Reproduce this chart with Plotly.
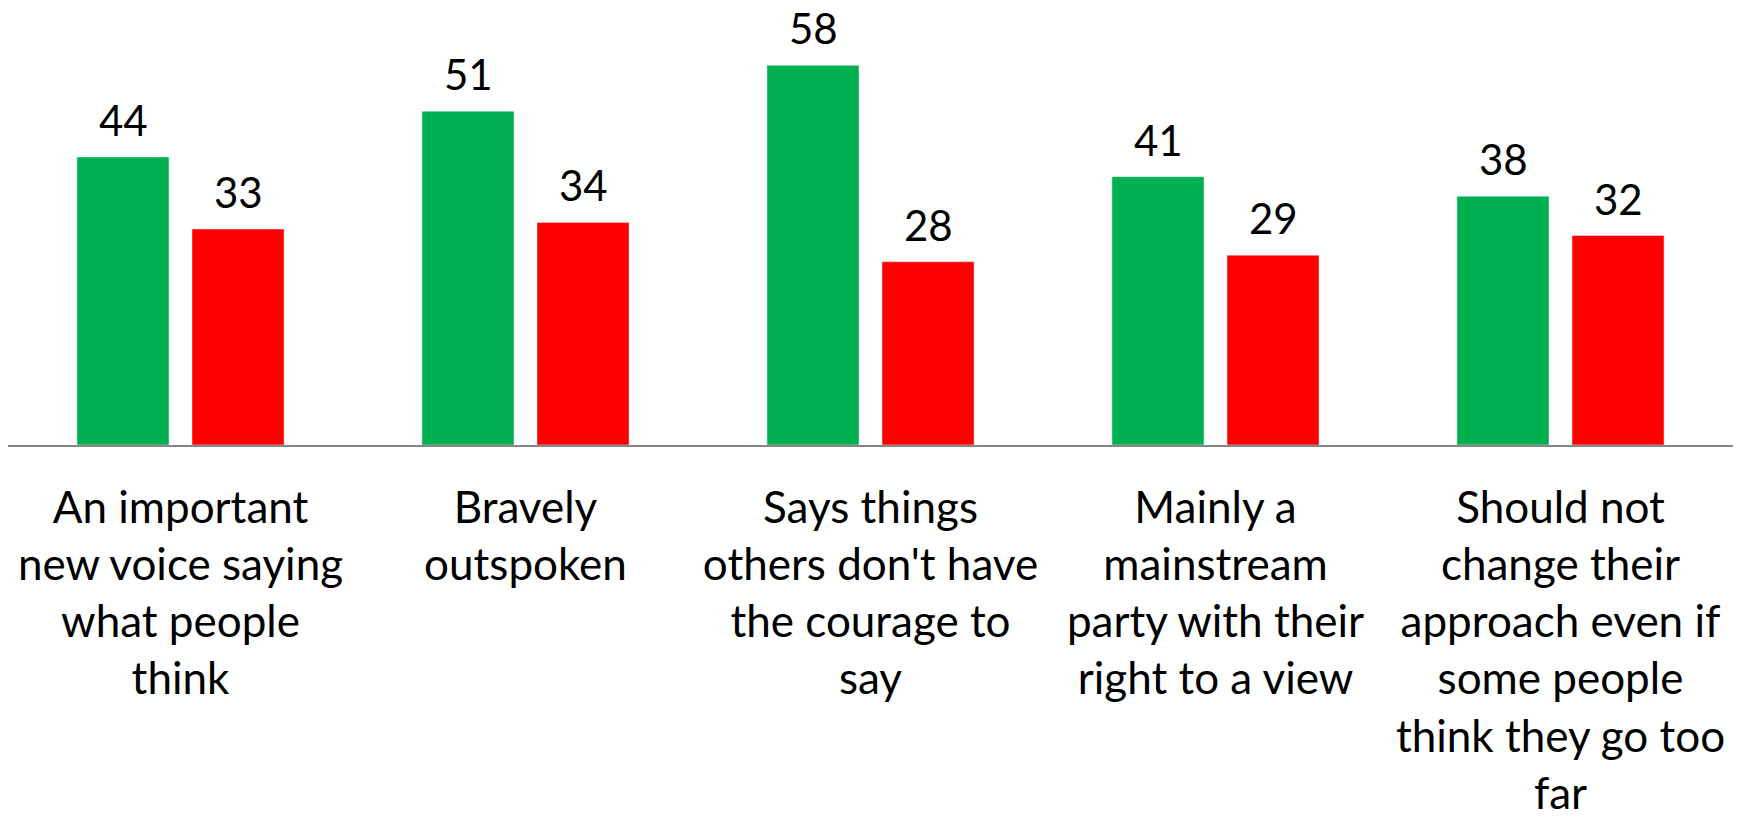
import plotly.graph_objects as go

categories = [
    "An important<br>new voice saying<br>what people<br>think",
    "Bravely<br>outspoken",
    "Says things<br>others don't have<br>the courage to<br>say",
    "Mainly a<br>mainstream<br>party with their<br>right to a view",
    "Should not<br>change their<br>approach even if<br>some people<br>think they go too<br>far",
]
agree = [44, 51, 58, 41, 38]
disagree = [33, 34, 28, 29, 32]

GREEN = "#00B050"
RED = "#FF0000"
FONT = "Lato"

fig = go.Figure()
fig.add_trace(go.Bar(x=categories, y=agree, name="Agree", marker_color=GREEN))
fig.add_trace(go.Bar(x=categories, y=disagree, name="Disagree", marker_color=RED))

# value labels above each bar (offset half a bar slot left/right)
annotations = []
for cat, a, d in zip(categories, agree, disagree):
    for val, shift in ((a, -57.5), (d, 57.5)):
        annotations.append(dict(
            x=cat, y=val, xref="x", yref="y", text=str(val), showarrow=False,
            xshift=shift, yshift=10, yanchor="bottom",
            font=dict(family=FONT, size=42, color="black"),
        ))

fig.update_layout(
    width=1746,
    height=818,
    margin=dict(l=8, r=13, t=10, b=373),
    paper_bgcolor="white",
    plot_bgcolor="white",
    barmode="group",
    bargap=0.333,
    bargroupgap=0.2,
    showlegend=False,
    annotations=annotations,
    font=dict(family=FONT, color="black"),
    xaxis=dict(
        showline=True, linecolor="#868686", linewidth=2,
        ticks="", tickfont=dict(family=FONT, size=44, color="black"),
        ticklabelstandoff=23, automargin=False,
    ),
    yaxis=dict(range=[0, 66.46], visible=False, showgrid=False),
)

# drop the default page margin so the figure fills the window exactly
fig.write_html(
    "out.html",
    config={"displayModeBar": False},
    post_script="document.body.style.margin = '0';",
)
